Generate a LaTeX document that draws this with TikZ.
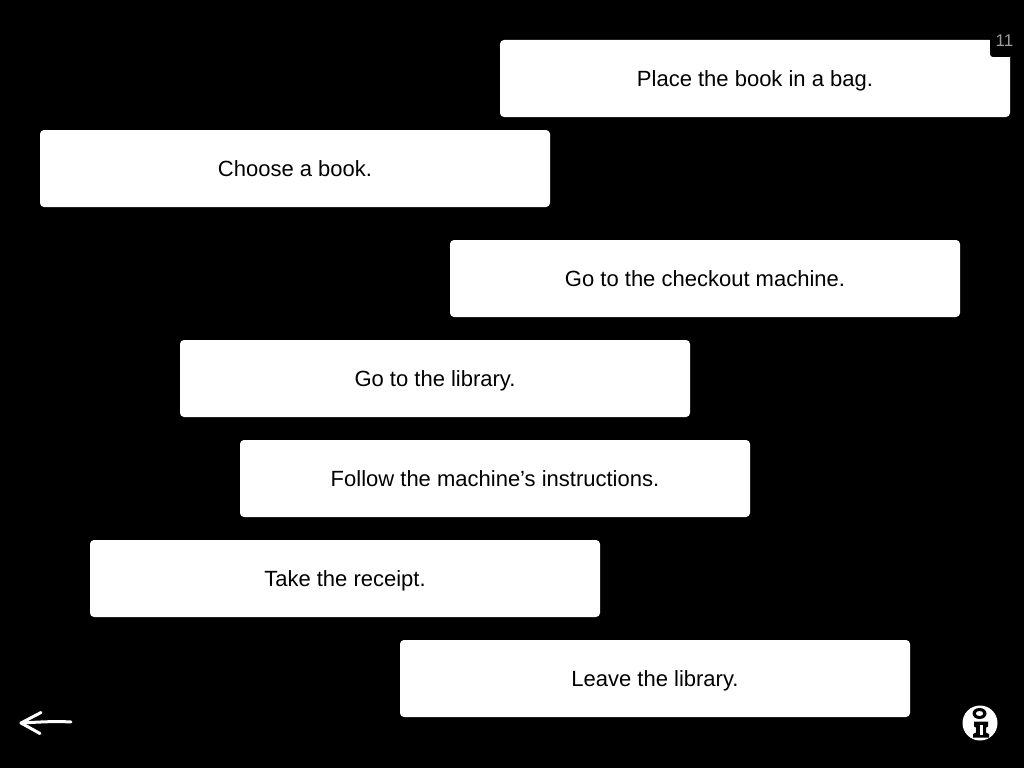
\documentclass[tikz,border=0pt]{standalone}
\usepackage{fontspec}
\setmainfont{Liberation Sans}
\tikzset{
  stepbox/.style={fill=white,draw=none,rounded corners=4pt,minimum width=510pt,minimum height=77pt,inner sep=0pt,text=black,font=\fontsize{22}{26}\selectfont,anchor=center,text height=18pt,text depth=3pt},
  sketchline/.style={draw=white,line width=3pt,line cap=round,line join=round}
}
\begin{document}
\begin{tikzpicture}[x=1pt,y=-1pt]
\useasboundingbox (0,0) rectangle (1024,768);
\fill[black] (0,0) rectangle (1024,768);
\node[stepbox] (bag) at (755,78.5) {Place the book in a bag.};
\node[stepbox] (choose) at (295,168.5) {Choose a book.};
\node[stepbox] (checkout) at (705,278.5) {Go to the checkout machine.};
\node[stepbox] (library) at (435,378.5) {Go to the library.};
\node[stepbox] (follow) at (495,478.5) {Follow the machine’s instructions.};
\node[stepbox] (receipt) at (345,578.5) {Take the receipt.};
\node[stepbox] (leave) at (655,678.5) {Leave the library.};
\fill[black,rounded corners=3pt] (990,30) -- (990,57) -- (1012,57) -- (1012,30) -- cycle;
\node[text=white!62!black,font=\fontsize{17}{19}\selectfont,inner sep=0pt] (page) at (1004.5,41) {11};
\coordinate (tip) at (21,723);
\coordinate (tail) at (71,722);
\coordinate (barbtop) at (41,712.5);
\coordinate (barbbot) at (40,733.5);
\draw[sketchline] (tail) .. controls (55,721) and (40,722) .. (tip);
\draw[sketchline] (barbtop) -- (tip) -- (barbbot);
\fill[white] (980,723) circle (17.5);
\fill[black,even odd rule] (979.5,713.5) ellipse (7 and 5.5) (979.5,713.5) ellipse (3.8 and 2.6);
\fill[black] (974,721.5) -- (988,721.5) -- (988,726.5) -- (986,727.5) -- (986,732.5) -- (989,734) -- (989,737.5) -- (973,737.5) -- (973,734) -- (976,732.5) -- (976,727.5) -- (974,726.5) -- cycle;
\fill[white] (980,724.5) rectangle (983,735);
\end{tikzpicture}
\end{document}
